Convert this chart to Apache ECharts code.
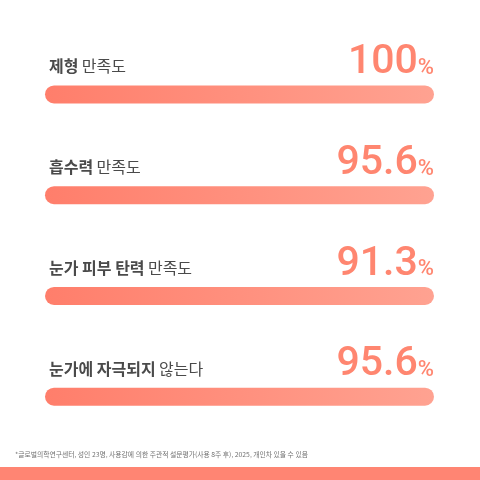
<!DOCTYPE html>
<html><head><meta charset="utf-8">
<script src="https://cdn.jsdelivr.net/npm/echarts@6/dist/echarts.min.js"></script>
<style>html,body{margin:0;padding:0;background:#fff}#c{width:480px;height:480px}</style>
</head><body><div id="c"></div>
<script>
var boldParts = ['제형', '흡수력', '눈가 피부 탄력', '눈가에 자극되지'];
var restParts = ['만족도', '만족도', '만족도', '않는다'];
var values = [100, 95.6, 91.3, 95.6];
var barLengths = [100, 100, 100, 100];
var footnote = '*글로벌의학연구센터, 성인 23명, 사용감에 의한 주관적 설문평가(사용 8주 후), 2025, 개인차 있을 수 있음';

var chart = echarts.init(document.getElementById('c'), null, {renderer: 'canvas'});
var cats = boldParts.map(function (b, i) { return b + ' ' + restParts[i]; });
var grad = new echarts.graphic.LinearGradient(0, 0, 1, 0, [
  {offset: 0, color: '#FF7E6B'}, {offset: 1, color: '#FFA291'}
]);
chart.setOption({
  animation: false,
  backgroundColor: '#fff',
  grid: {left: 45, right: 46, top: 44, bottom: 33},
  xAxis: {type: 'value', min: 0, max: 100, show: false},
  yAxis: {type: 'category', data: cats, inverse: true, show: false},
  series: [{
    type: 'bar', barWidth: 18,
    data: barLengths,
    itemStyle: {color: grad, borderRadius: 9},
    label: {
      show: true, position: [4, -19], verticalAlign: 'middle', align: 'left',
      formatter: function (p) { return '{b|' + boldParts[p.dataIndex] + '} {r|' + restParts[p.dataIndex] + '}'; },
      rich: {
        b: {fontFamily: 'Noto Sans CJK KR', fontSize: 16, fontWeight: 'bold', color: '#4a4a4a'},
        r: {fontFamily: 'Noto Sans CJK KR', fontSize: 16, fontWeight: 'normal', color: '#4a4a4a'}
      }
    }
  }, {
    type: 'bar', barWidth: 18, barGap: '-100%',
    data: barLengths,
    itemStyle: {color: 'rgba(0,0,0,0)'},
    label: {
      show: true, position: ['100%', -2], align: 'right', verticalAlign: 'bottom',
      formatter: function (p) { return '{n|' + values[p.dataIndex] + '}{p|%}'; },
      rich: {
        n: {fontFamily: 'Roboto', fontSize: 41, fontWeight: 500, color: '#FF8670', verticalAlign: 'bottom'},
        p: {fontFamily: 'Roboto', fontSize: 22, fontWeight: 500, color: '#FF8670', verticalAlign: 'bottom', padding: [0, 0, 4, 0]}
      }
    }
  }],
  graphic: [{
    type: 'text', left: 15, top: 451,
    style: {text: footnote, fontFamily: 'Noto Sans CJK KR', fontSize: 6.8, fill: '#707070'}
  }, {
    type: 'rect', left: 0, top: 467, shape: {width: 480, height: 13}, style: {fill: '#FF8573'}
  }]
});
</script></body></html>
